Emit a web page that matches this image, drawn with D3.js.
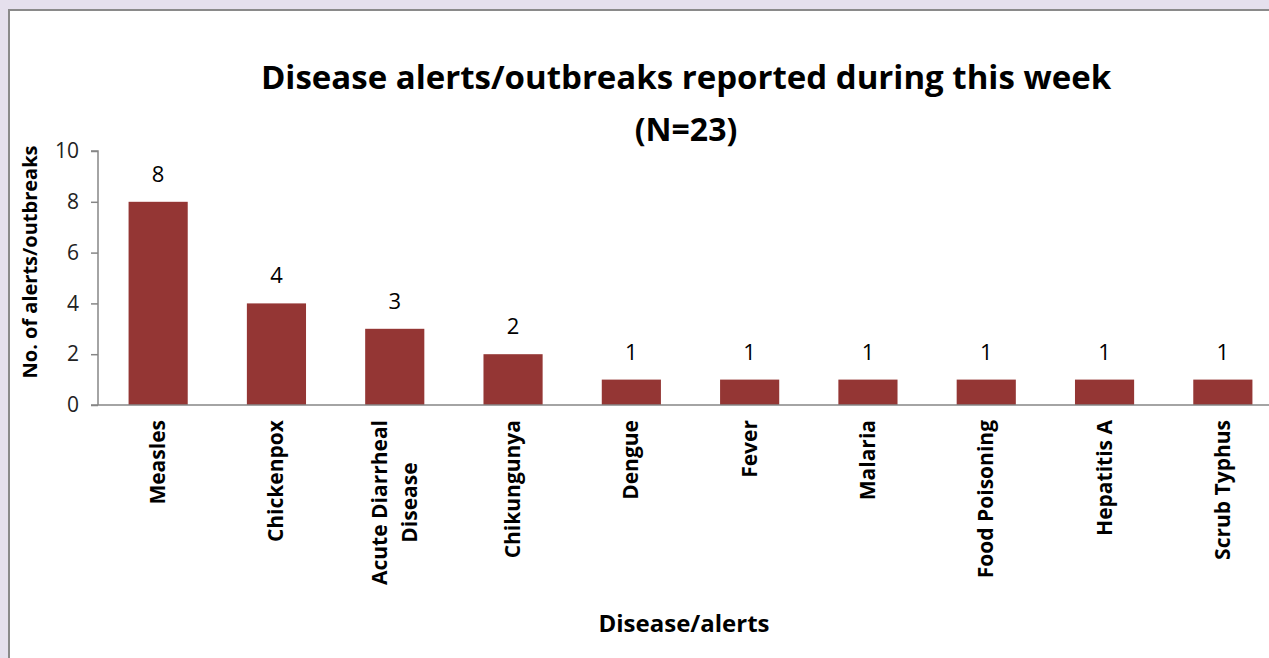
<!DOCTYPE html>
<html><head><meta charset="utf-8">
<script src="https://cdn.jsdelivr.net/npm/d3@7"></script>
<style>
html,body{margin:0;padding:0;background:#e5e0ed;}
svg{display:block;}
</style></head>
<body>
<svg id="chart" width="1269" height="658"></svg>
<script>
const categories = ["Measles","Chickenpox","Acute Diarrheal Disease","Chikungunya","Dengue","Fever","Malaria","Food Poisoning","Hepatitis A","Scrub Typhus"];
const categoryLines = [["Measles"],["Chickenpox"],["Acute Diarrheal","Disease"],["Chikungunya"],["Dengue"],["Fever"],["Malaria"],["Food Poisoning"],["Hepatitis A"],["Scrub Typhus"]];
const values = [8,4,3,2,1,1,1,1,1,1];
const yTicks = [0,2,4,6,8,10];
const titleLines = ["Disease alerts/outbreaks reported during this week","(N=23)"];
const xTitle = "Disease/alerts";
const yTitle = "No. of alerts/outbreaks";

const svg = d3.select("#chart");
const font = "'Open Sans', 'Noto Sans', sans-serif";

// panel
svg.append("rect").attr("x",9).attr("y",10).attr("width",1300).attr("height",700)
  .attr("fill","#fff").attr("stroke","#8a8a8a").attr("stroke-width",2);

const x0 = 98, x1 = 99 + 118.3*10, y0 = 405, y1 = 151;
const x = d3.scaleBand().domain(categories).range([x0+1,x1]).paddingInner(0.5).paddingOuter(0.25);
const y = d3.scaleLinear().domain([0,10]).range([y0,y1]);

// bars
svg.append("g").selectAll("rect").data(values).join("rect")
  .attr("x",(d,i)=>x(categories[i]))
  .attr("y",d=>y(d))
  .attr("width",x.bandwidth())
  .attr("height",d=>y0-y(d))
  .attr("fill","#943634");

// data labels
svg.append("g").selectAll("text").data(values).join("text")
  .attr("x",(d,i)=>x(categories[i])+x.bandwidth()/2)
  .attr("y",d=>y(d)-20)
  .attr("text-anchor","middle")
  .attr("font-family",font).attr("font-size",22).attr("fill","#000")
  .text(d=>d);

// y axis
const yAxis = d3.axisLeft(y).tickValues(yTicks).tickSize(7).tickPadding(12);
const gy = svg.append("g").attr("transform",`translate(${x0},0)`).call(yAxis);
gy.select(".domain").attr("stroke","#868686").attr("stroke-width",1.5).attr("d",`M-7,${y1}H0V${y0}`);
gy.selectAll(".tick line").attr("stroke","#868686").attr("stroke-width",1.5);
gy.selectAll(".tick text").attr("font-family",font).attr("font-size",21).attr("fill","#222");

// x axis
const xAxis = d3.axisBottom(x).tickSize(0).tickFormat("");
const gx = svg.append("g").attr("transform",`translate(0,${y0})`).call(xAxis);
gx.select(".domain").attr("stroke","#868686").attr("stroke-width",1.5).attr("d",`M${x0-7},0H1269`);

// category labels
const cl = svg.append("g").selectAll("text").data(categories).join("text")
  .attr("transform",(d,i)=>`translate(${x(d)+x.bandwidth()/2},${y0+15}) rotate(-90)`)
  .attr("text-anchor","end")
  .attr("font-family",font).attr("font-weight","bold").attr("font-size",21).attr("fill","#000");
cl.each(function(d,i){
  const lines = categoryLines[i];
  const n = lines.length;
  d3.select(this).selectAll("tspan").data(lines).join("tspan")
    .attr("x",0)
    .attr("y",(l,j)=> (j-(n-1)/2)*30 + 7)
    .text(l=>l);
});
cl.filter((d,i)=>categoryLines[i].length>1).each(function(){
  const tsp = d3.select(this).selectAll("tspan").nodes();
  const w0 = tsp[0].getComputedTextLength();
  const w1 = tsp[1].getComputedTextLength();
  d3.select(tsp[1]).attr("x", -(w0-w1)/2);
});

// titles
svg.append("text").attr("x",686).attr("y",89).attr("text-anchor","middle")
  .attr("font-family",font).attr("font-weight","bold").attr("font-size",33).text(titleLines[0]);
svg.append("text").attr("x",686).attr("y",141).attr("text-anchor","middle")
  .attr("font-family",font).attr("font-weight","bold").attr("font-size",32).text(titleLines[1]);
svg.append("text").attr("x",684).attr("y",632).attr("text-anchor","middle")
  .attr("font-family",font).attr("font-weight","bold").attr("font-size",24).text(xTitle);
svg.append("text").attr("transform",`translate(37,262) rotate(-90)`).attr("text-anchor","middle")
  .attr("font-family",font).attr("font-weight","bold").attr("font-size",20).text(yTitle);
</script>
</body></html>
